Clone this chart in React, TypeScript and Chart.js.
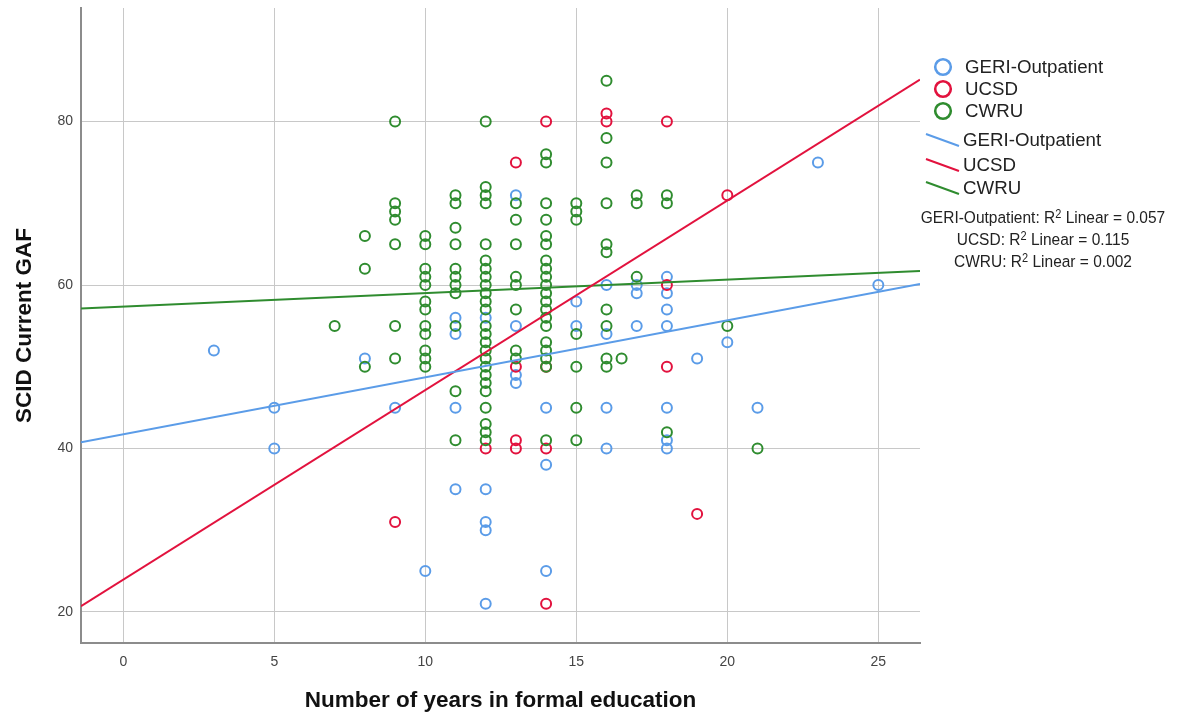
import React, { useEffect, useRef } from "react";
import { Chart, registerables } from "chart.js";

Chart.register(...registerables);

// ---------- data ----------
const seriesNames = ["GERI-Outpatient", "UCSD", "CWRU"];
const seriesColors = ["#5b9ce8", "#e2123e", "#2f8c2f"];

const geriX = [3, 5, 5, 8, 9, 10, 11, 11, 11, 11, 12, 12, 12, 12, 12, 13, 13, 13, 13, 14, 14, 14, 15, 15, 16, 16, 16, 16, 17, 17, 17, 18, 18, 18, 18, 18, 18, 18, 19, 20, 21, 23, 25];
const geriY = [52, 45, 40, 51, 45, 25, 56, 54, 45, 35, 56, 35, 31, 30, 21, 71, 55, 49, 48, 45, 38, 25, 58, 55, 60, 54, 45, 40, 60, 59, 55, 61, 59, 57, 55, 45, 41, 40, 51, 53, 45, 75, 60];

const ucsdX = [9, 12, 13, 13, 13, 13, 14, 14, 14, 14, 16, 16, 18, 18, 18, 19, 20];
const ucsdY = [31, 40, 75, 50, 41, 40, 80, 50, 40, 21, 81, 80, 80, 60, 50, 32, 71];

const cwruX = [
  7,
  8, 8, 8,
  9, 9, 9, 9, 9, 9, 9,
  10, 10, 10, 10, 10, 10, 10, 10, 10, 10, 10, 10,
  11, 11, 11, 11, 11, 11, 11, 11, 11, 11, 11,
  12, 12, 12, 12, 12, 12, 12, 12, 12, 12, 12, 12, 12, 12, 12, 12, 12, 12, 12, 12, 12, 12, 12, 12, 12,
  13, 13, 13, 13, 13, 13, 13, 13,
  14, 14, 14, 14, 14, 14, 14, 14, 14, 14, 14, 14, 14, 14, 14, 14, 14, 14, 14, 14,
  15, 15, 15, 15, 15, 15, 15,
  16, 16, 16, 16, 16, 16, 16, 16, 16, 16,
  16.5,
  17, 17, 17,
  18, 18, 18,
  20,
  21,
];
const cwruY = [
  55,
  66, 62, 50,
  80, 70, 69, 68, 65, 55, 51,
  66, 65, 62, 61, 60, 58, 57, 55, 54, 52, 51, 50,
  71, 70, 67, 65, 62, 61, 60, 59, 55, 47, 41,
  80, 72, 71, 70, 65, 63, 62, 61, 60, 59, 58, 57, 55, 54, 53, 52, 51, 50, 49, 48, 47, 45, 43, 42, 41,
  70, 68, 65, 61, 60, 57, 52, 51,
  76, 75, 70, 68, 66, 65, 63, 62, 61, 60, 59, 58, 57, 56, 55, 53, 52, 51, 50, 41,
  70, 69, 68, 54, 50, 45, 41,
  85, 78, 75, 70, 65, 64, 57, 55, 51, 50,
  51,
  71, 70, 61,
  71, 70, 42,
  55,
  40,
];

// fitted linear regression lines (intercept, slope) per series
const fitIntercepts = [41.75, 23.95, 57.37];
const fitSlopes = [0.697, 2.32, 0.165];
const rSquared = ["0.057", "0.115", "0.002"];

const xTicks = [0, 5, 10, 15, 20, 25];
const yTicks = [20, 40, 60, 80];
const xRange = [-1.4, 26.38];
const yRange = [16.2, 93.9];

const xTitle = "Number of years in formal education";
const yTitle = "SCID Current GAF";

const FONT = "'Liberation Sans', Arial, sans-serif";

function pts(xs: number[], ys: number[]) {
  return xs.map((x, i) => ({ x, y: ys[i] }));
}

export default function App() {
  const ref = useRef<HTMLCanvasElement | null>(null);

  useEffect(() => {
    if (!ref.current) return;
    const xs = [geriX, ucsdX, cwruX];
    const ys = [geriY, ucsdY, cwruY];
    const pointOrders = [3, 2, 1];
    const scatterSets = seriesNames.map((name, i) => ({
      label: name,
      data: pts(xs[i], ys[i]),
      borderColor: seriesColors[i],
      backgroundColor: "rgba(0,0,0,0)",
      pointRadius: 5,
      pointBorderWidth: 2,
      pointHoverRadius: 5,
      showLine: false,
      order: pointOrders[i],
    }));
    const lineSets = seriesNames.map((name, i) => ({
      label: name + " fit",
      data: [
        { x: xRange[0], y: fitIntercepts[i] + fitSlopes[i] * xRange[0] },
        { x: xRange[1], y: fitIntercepts[i] + fitSlopes[i] * xRange[1] },
      ],
      borderColor: seriesColors[i],
      backgroundColor: seriesColors[i],
      borderWidth: 2,
      pointRadius: 0,
      showLine: true,
      order: 0,
    }));

    const chart = new Chart(ref.current, {
      type: "scatter",
      data: { datasets: [...scatterSets, ...lineSets] as any },
      options: {
        animation: false,
        responsive: false,
        maintainAspectRatio: false,
        layout: { padding: { left: 0, right: 1181 - 920, top: 8, bottom: 0 } },
        plugins: { legend: { display: false }, tooltip: { enabled: false } },
        scales: {
          x: {
            type: "linear",
            min: xRange[0],
            max: xRange[1],
            afterBuildTicks: (s: any) => {
              s.ticks = xTicks.map((v) => ({ value: v }));
            },
            afterFit: (s: any) => {
              s.height = 721 - 643;
              s.paddingLeft = 0;
              s.paddingRight = 0;
            },
            grid: { color: "#c8c8c8", lineWidth: 1, drawTicks: false },
            border: { display: true, color: "#8c8c8c", width: 2 },
            ticks: {
              color: "#444",
              font: { family: FONT, size: 14 },
              padding: 11,
            },
            title: {
              display: true,
              text: xTitle,
              color: "#111",
              font: { family: FONT, size: 22.5, weight: "bold" },
              padding: { top: 0, bottom: 7 },
            },
          },
          y: {
            type: "linear",
            min: yRange[0],
            max: yRange[1],
            afterBuildTicks: (s: any) => {
              s.ticks = yTicks.map((v) => ({ value: v }));
            },
            afterFit: (s: any) => {
              s.width = 81;
              s.paddingTop = 0;
              s.paddingBottom = 0;
            },
            grid: { color: "#c8c8c8", lineWidth: 1, drawTicks: false },
            border: { display: true, color: "#8c8c8c", width: 2 },
            ticks: {
              color: "#444",
              font: { family: FONT, size: 14 },
              padding: 8,
            },
            title: {
              display: true,
              text: yTitle,
              color: "#111",
              font: { family: FONT, size: 22.5, weight: "bold" },
              padding: { top: 11, bottom: 0 },
            },
          },
        },
      },
    });
    return () => chart.destroy();
  }, []);

  const circleRows = [67, 89, 111];
  const lineRows = [140, 165, 188];

  return (
    <div style={{ position: "absolute", left: 0, top: 0, width: 1181, height: 721, background: "#fff", fontFamily: FONT }}>
      <canvas ref={ref} width={1181} height={721} style={{ position: "absolute", left: 0, top: 0, width: 1181, height: 721 }} />
      <svg width={1181} height={721} style={{ position: "absolute", left: 0, top: 0, pointerEvents: "none" }}>
        {seriesNames.map((n, i) => (
          <circle key={"c" + i} cx={943} cy={circleRows[i]} r={7.8} fill="none" stroke={seriesColors[i]} strokeWidth={2.6} />
        ))}
        {seriesNames.map((n, i) => (
          <line key={"l" + i} x1={926} y1={lineRows[i] - 6} x2={959} y2={lineRows[i] + 6} stroke={seriesColors[i]} strokeWidth={2} />
        ))}
      </svg>
      {seriesNames.map((n, i) => (
        <div key={"t" + i} style={{ position: "absolute", left: 965, top: circleRows[i] - 12, fontSize: 18.7, lineHeight: "24px", color: "#222", whiteSpace: "nowrap" }}>{n}</div>
      ))}
      {seriesNames.map((n, i) => (
        <div key={"u" + i} style={{ position: "absolute", left: 963, top: lineRows[i] - 12, fontSize: 18.7, lineHeight: "24px", color: "#222", whiteSpace: "nowrap" }}>{n}</div>
      ))}
      {seriesNames.map((n, i) => (
        <div key={"r" + i} style={{ position: "absolute", left: 900, width: 286, top: 207 + i * 22, textAlign: "center", fontSize: 15.5, lineHeight: "22px", color: "#222", whiteSpace: "nowrap", transform: "scaleY(1.1)" }}>
          {n}: R<sup style={{ fontSize: 11, verticalAlign: "top", lineHeight: "14px" }}>2</sup> Linear = {rSquared[i]}
        </div>
      ))}
    </div>
  );
}
